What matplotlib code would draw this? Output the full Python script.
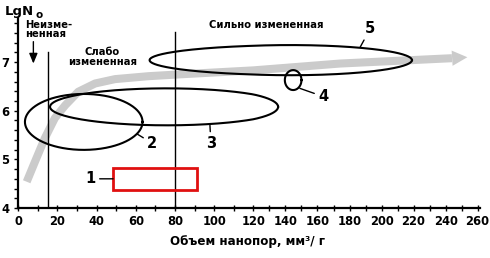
import numpy as np
import matplotlib
matplotlib.use("Agg")
import matplotlib.pyplot as plt
from matplotlib.ticker import MultipleLocator, FixedLocator
from matplotlib.patches import Rectangle

plt.rcParams['font.family'] = ['DejaVu Sans']
plt.rcParams['font.weight'] = 'bold'

# ---- data ----
x_ticks = [0, 20, 40, 60, 80, 100, 120, 140, 160, 180, 200, 220, 240, 260]
y_ticks = [4, 5, 6, 7]

# gray trend curve (x, y)
trend_x = [4.3, 8.5, 13.6, 18.7, 23.9, 30.6, 39.2, 49.4, 66.4, 83.5, 120.0, 174.0, 212.0, 244.0]
trend_y = [4.54, 4.95, 5.44, 5.85, 6.11, 6.39, 6.56, 6.65, 6.71, 6.75, 6.83, 6.97, 7.03, 7.08]
trend_tip = (253.6, 7.10)

# ellipses: center x, center y, half-width (x), half-height (y)
ell_names = ['2', '3', '4', '5']
ell_cx = [33.4, 75.8, 144.8, 143.0]
ell_cy = [5.77, 6.08, 6.63, 7.04]
ell_ax = [30.0, 59.6, 5.2, 76.0]
ell_ay = [0.575, 0.38, 0.205, 0.31]

# red rectangle "1": x0, x1, y0, y1
rect_x = [48.4, 91.1]
rect_y = [4.37, 4.82]

# boundary lines
vline_x = [15.2, 80.0]
vline_top = [7.21, 7.62]

# label positions (text x, y) and leader target (x, y)
lab_names = ['1', '2', '3', '4', '5']
lab_tx = [36.8, 68.4, 98.3, 163.7, 193.0]
lab_ty = [4.60, 5.33, 5.33, 6.29, 7.69]
lab_px = [48.4, 60.7, 97.8, 149.0, 186.7]
lab_py = [4.60, 5.52, 5.70, 6.46, 7.31]

BREAK, R = 120.0, 0.817
def fwd(x):
    x = np.asarray(x, float)
    return np.where(x <= BREAK, x, BREAK + (x - BREAK) * R)
def inv(u):
    u = np.asarray(u, float)
    return np.where(u <= BREAK, u, BREAK + (u - BREAK) / R)

fig = plt.figure(figsize=(4.9, 2.58), dpi=100)
ax = fig.add_axes([0.0373, 0.1938, 0.9796 - 0.0373, 0.929 - 0.1938])
ax.set_xscale('function', functions=(fwd, inv))
ax.set_xlim(0, 261.5)
ax.set_ylim(4, 7.9)

for s in ['top', 'right']:
    ax.spines[s].set_visible(False)
for s in ['left', 'bottom']:
    ax.spines[s].set_linewidth(1.6)

ax.xaxis.set_major_locator(FixedLocator(x_ticks))
ax.xaxis.set_minor_locator(MultipleLocator(10))
ax.set_xticklabels([str(v) for v in x_ticks])
ax.yaxis.set_major_locator(FixedLocator(y_ticks))
ax.yaxis.set_minor_locator(MultipleLocator(0.2))
ax.set_yticklabels([str(v) for v in y_ticks])
ax.tick_params(axis='x', which='both', direction='inout', length=4.5, width=1, pad=2.5, labelsize=8.3)
ax.tick_params(axis='y', which='both', direction='out', length=3, width=1, pad=3.5, labelsize=8.3)

# trend
ax.plot(trend_x, trend_y, color='#cbcbcb', lw=5.8, solid_capstyle='butt', solid_joinstyle='round', zorder=1)
ax.annotate('', xy=trend_tip, xytext=(trend_x[-1], trend_y[-1]),
            arrowprops=dict(arrowstyle='-|>,head_length=1.1,head_width=0.55', color='#cbcbcb',
                            lw=0, mutation_scale=10, shrinkA=0, shrinkB=0), zorder=1)

# vertical lines
for vx, vt in zip(vline_x, vline_top):
    ax.plot([vx, vx], [4, vt], color='black', lw=1.0, zorder=2)

# ellipses
t = np.linspace(0, 2 * np.pi, 400)
for cx, cy, a, b in zip(ell_cx, ell_cy, ell_ax, ell_ay):
    ax.plot(cx + a * np.cos(t), cy + b * np.sin(t), color='black', lw=1.5, zorder=3)

ax.add_patch(Rectangle((rect_x[0], rect_y[0]), rect_x[1] - rect_x[0], rect_y[1] - rect_y[0],
                       fill=False, edgecolor='#e01010', lw=2.0, zorder=3))

for n, tx, ty, px, py in zip(lab_names, lab_tx, lab_ty, lab_px, lab_py):
    ax.annotate(n, xy=(px, py), xytext=(tx, ty), ha='center', va='center', fontsize=10.5,
                fontweight='bold',
                arrowprops=dict(arrowstyle='-', color='black', lw=1.0, shrinkA=1, shrinkB=0))

# region texts
ax.text(3.4, 7.67, 'Неизме-\nненная', ha='left', va='center', fontsize=7.2, fontweight='bold',
        linespacing=0.95)
ax.annotate('', xy=(7.7, 6.97), xytext=(7.7, 7.42),
            arrowprops=dict(arrowstyle='-|>,head_length=0.6,head_width=0.25', color='black', lw=1.0,
                            shrinkA=0, shrinkB=0))
ax.text(43, 7.11, 'Слабо\nизмененная', ha='center', va='center', fontsize=7.2, fontweight='bold',
        linespacing=1.05)
ax.text(128, 7.76, 'Сильно измененная', ha='center', va='center', fontsize=7.2, fontweight='bold')

# axis titles
fig.text(5 / 490, 1 - 11.5 / 258, 'LgN', ha='left', va='center', fontsize=9.5, fontweight='bold')
fig.text(35 / 490, 1 - 15 / 258, 'o', ha='left', va='center', fontsize=7.5, fontweight='bold')
fig.text(248 / 490, 1 - 242 / 258, 'Объем нанопор, мм³/ г', ha='center', va='center',
         fontsize=8.6, fontweight='bold')

fig.savefig('out.png', dpi=100)
